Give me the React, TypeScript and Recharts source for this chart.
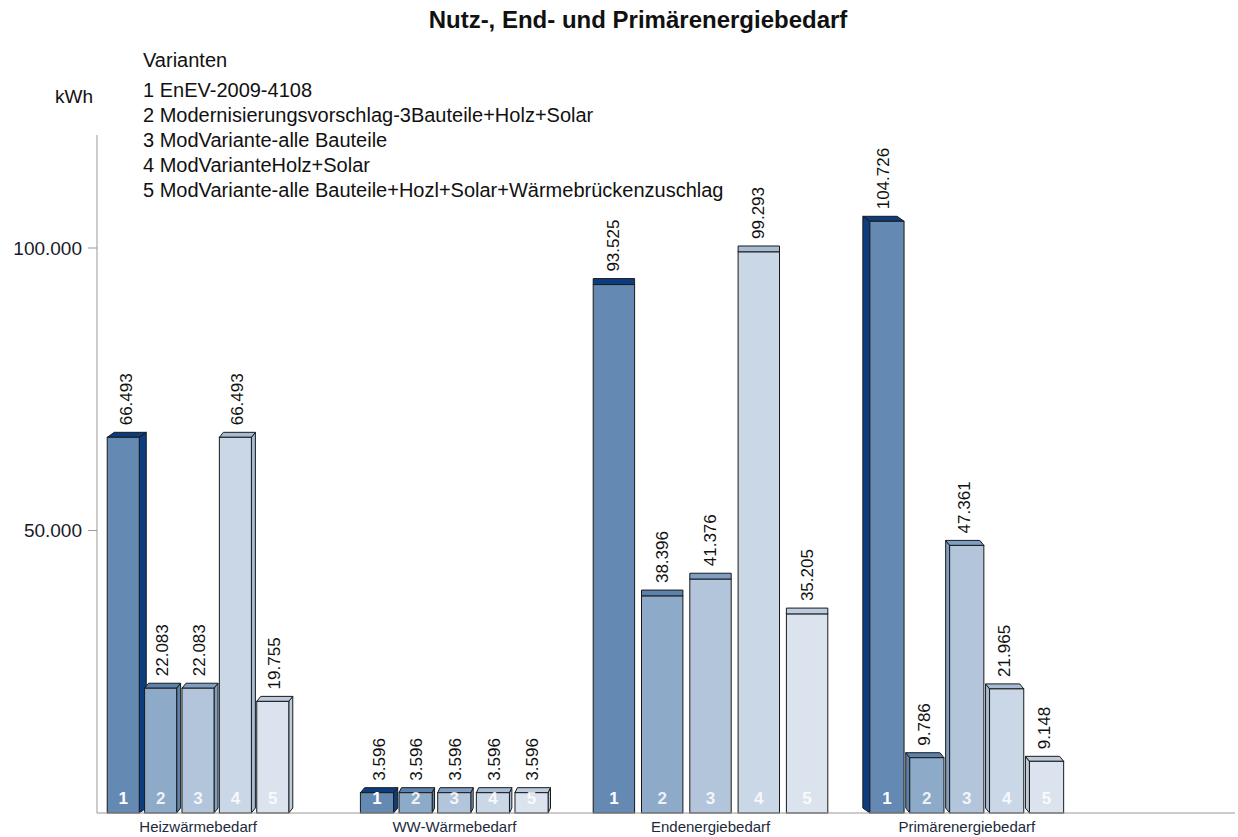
import { BarChart, Bar, XAxis, YAxis } from "recharts";

const categories = [
  "Heizwärmebedarf",
  "WW-Wärmebedarf",
  "Endenergiebedarf",
  "Primärenergiebedarf",
];

const variantNames = [
  "1 EnEV-2009-4108",
  "2 Modernisierungsvorschlag-3Bauteile+Holz+Solar",
  "3 ModVariante-alle Bauteile",
  "4 ModVarianteHolz+Solar",
  "5 ModVariante-alle Bauteile+Hozl+Solar+Wärmebrückenzuschlag",
];

// kWh per category
const variante1 = [66493, 3596, 93525, 104726];
const variante2 = [22083, 3596, 38396, 9786];
const variante3 = [22083, 3596, 41376, 47361];
const variante4 = [66493, 3596, 99293, 21965];
const variante5 = [19755, 3596, 35205, 9148];

const yTicks = [50000, 100000];

const series = [variante1, variante2, variante3, variante4, variante5];

const data = categories.map((name, i) => {
  const row: Record<string, string | number> = { name };
  series.forEach((s, k) => (row[`v${k + 1}`] = s[i]));
  return row;
});

// styling
const FONT = "'Liberation Sans', Arial, sans-serif";
const FRONT = ["#6489b3", "#8eaac9", "#b3c5da", "#cad7e6", "#dbe3ee"];
const DARK = ["#0c3d7e", "#5b81ad", "#7f9ec3", "#a6bcd4", "#bccbdd"];
const BAR_SIZE = 36;
const BAR_GAP = 6;
// pseudo perspective of the original: lean of the 3d faces and group width per category
const TILT = [1, 0.6, 0, -1];
const WSCALE = [0.89, 0.92, 1.15, 0.95];

const fmt = (v: number) =>
  String(Math.round(v)).replace(/\B(?=(\d{3})+(?!\d))/g, ".");

function Bar3D(props: any) {
  const { y, height, index, s, value } = props;
  if (height == null || props.width == null) return null;
  // rescale around the group centre
  const gc = props.x + props.width / 2 - (s - 2) * (props.width + BAR_GAP);
  const sc = WSCALE[index] ?? 1;
  const x = gc + (props.x - gc) * sc;
  const width = props.width * sc;
  const t = TILT[index] ?? 0;
  const depth = s === 0 ? 7 : 4;
  const dx = t * depth;
  const dy = t === 0 ? -6 : -5;
  const stroke = "#1a1a1a";
  const top = `${x},${y} ${x + width},${y} ${x + width + dx},${y + dy} ${x + dx},${y + dy}`;
  let side = "";
  if (dx > 0) {
    side = `${x + width},${y} ${x + width + dx},${y + dy} ${x + width + dx},${y + height + dy} ${x + width},${y + height}`;
  } else if (dx < 0) {
    side = `${x},${y} ${x + dx},${y + dy} ${x + dx},${y + height + dy} ${x},${y + height}`;
  }
  const lx = x + width / 2 + dx / 2;
  const ly = y + dy - 7;
  return (
    <g>
      {side && <polygon points={side} fill={DARK[s]} stroke={stroke} strokeWidth={1} />}
      <polygon points={top} fill={DARK[s]} stroke={stroke} strokeWidth={1} />
      <rect x={x} y={y} width={width} height={height} fill={FRONT[s]} stroke={stroke} strokeWidth={1} />
      <text
        x={x + width / 2}
        y={y + height - 15}
        textAnchor="middle"
        dominantBaseline="central"
        fill="#ffffff"
        fillOpacity={s === 0 ? 1 : 0.85}
        fontWeight="bold"
        fontSize={17}
        fontFamily={FONT}
      >
        {s + 1}
      </text>
      <text
        x={lx}
        y={ly}
        transform={`rotate(-90 ${lx} ${ly})`}
        textAnchor="start"
        dominantBaseline="central"
        fill="#111"
        fontSize={17}
        fontFamily={FONT}
      >
        {fmt(value)}
      </text>
    </g>
  );
}

export default function App() {
  return (
    <div
      style={{
        position: "absolute",
        left: 0,
        top: 0,
        width: 1238,
        height: 837,
        background: "#fff",
        fontFamily: FONT,
        color: "#111",
      }}
    >
      <div
        style={{
          position: "absolute",
          left: 0,
          width: 1276,
          top: 6,
          textAlign: "center",
          fontSize: 24,
          fontWeight: "bold",
          lineHeight: "28px",
        }}
      >
        Nutz-, End- und Primärenergiebedarf
      </div>
      <div style={{ position: "absolute", left: 143, top: 47, fontSize: 20, lineHeight: "26px" }}>
        Varianten
      </div>
      <div style={{ position: "absolute", left: 143, top: 78, fontSize: 20, lineHeight: "25px" }}>
        {variantNames.map((n) => (
          <div key={n}>{n}</div>
        ))}
      </div>
      <div style={{ position: "absolute", left: 55, top: 85, fontSize: 19, lineHeight: "24px" }}>
        kWh
      </div>
      <BarChart
        width={1238}
        height={837}
        data={data}
        margin={{ top: 135, right: 3, bottom: 2, left: 37 }}
        barSize={BAR_SIZE}
        barGap={BAR_GAP}
      >
        <XAxis
          dataKey="name"
          height={22}
          tickLine={false}
          axisLine={{ stroke: "#999" }}
          padding={{ left: -27, right: 140 }}
          tick={{ fontSize: 15, fill: "#1c2a3c", fontFamily: FONT }}
          tickMargin={2}
          interval={0}
        />
        <YAxis
          width={60}
          domain={[0, 120000]}
          ticks={yTicks}
          tickFormatter={fmt}
          axisLine={{ stroke: "#999" }}
          tickLine={{ stroke: "#999" }}
          tickSize={9}
          tickMargin={6}
          tick={{ fontSize: 19, fill: "#1a1a2a", fontFamily: FONT }}
        />
        {series.map((_, k) => (
          <Bar
            key={k}
            dataKey={`v${k + 1}`}
            isAnimationActive={false}
            shape={(p: any) => <Bar3D {...p} s={k} />}
          />
        ))}
      </BarChart>
    </div>
  );
}
